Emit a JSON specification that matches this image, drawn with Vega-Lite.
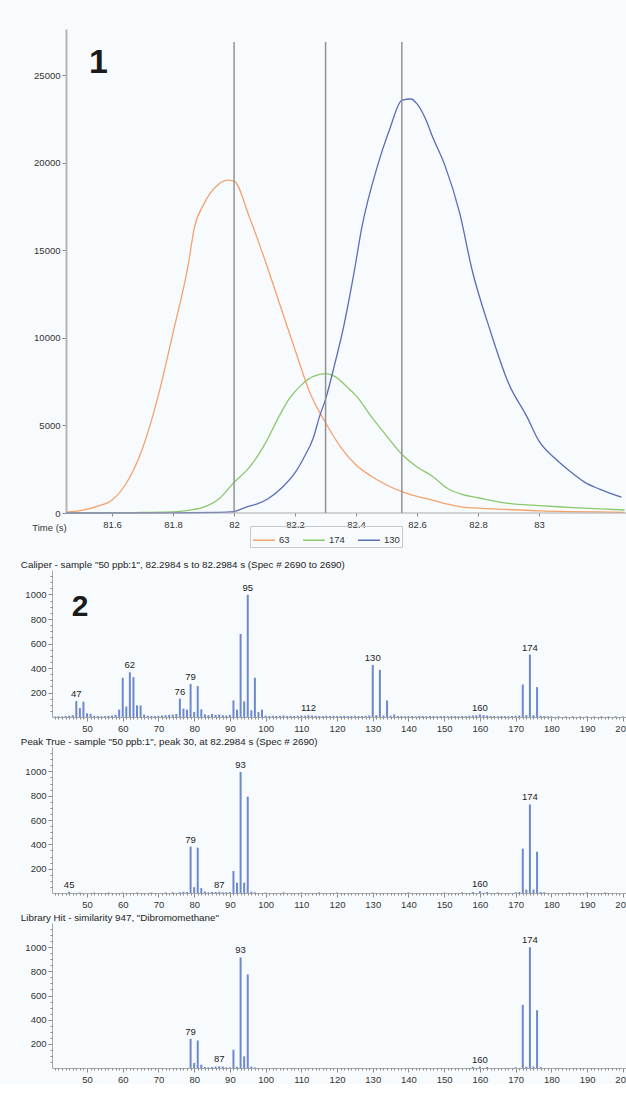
{
  "$schema": "https://vega.github.io/schema/vega-lite/v6.json",
  "background": "#f8fbfd",
  "padding": {"left": 20, "top": 29, "right": 0, "bottom": 0},
  "spacing": 4,
  "config": {
    "font": "Liberation Sans",
    "view": {"stroke": null},
    "axis": {"labelFont": "Liberation Sans", "labelFontSize": 9.5, "labelColor": "#333", "domainColor": "#a8a8a8", "tickColor": "#888", "grid": false, "titleFont": "Liberation Sans", "titleFontSize": 9.5, "titleFontWeight": "normal", "titleColor": "#333"},
    "title": {"font": "Liberation Sans", "fontSize": 9.8, "fontWeight": "normal", "color": "#222", "anchor": "start"},
    "legend": {"labelFont": "Liberation Sans", "labelFontSize": 9.5, "labelColor": "#333"}
  },
  "datasets": {
    "chrom": [
      {"s":"63","t":81.45,"v":50},{"s":"63","t":81.5,"v":150},{"s":"63","t":81.55,"v":380},{"s":"63","t":81.6,"v":742},{"s":"63","t":81.65,"v":1800},{"s":"63","t":81.7,"v":3700},{"s":"63","t":81.75,"v":6600},{"s":"63","t":81.8,"v":10300},{"s":"63","t":81.85,"v":14200},{"s":"63","t":81.87,"v":16300},{"s":"63","t":81.9,"v":17600},{"s":"63","t":81.95,"v":18780},{"s":"63","t":81.98,"v":19000},{"s":"63","t":82.0,"v":18950},{"s":"63","t":82.05,"v":16900},{"s":"63","t":82.1,"v":14500},{"s":"63","t":82.15,"v":11900},{"s":"63","t":82.2,"v":9300},{"s":"63","t":82.25,"v":6800},{"s":"63","t":82.3,"v":5150},{"s":"63","t":82.35,"v":3750},{"s":"63","t":82.4,"v":2740},{"s":"63","t":82.45,"v":2100},{"s":"63","t":82.5,"v":1600},{"s":"63","t":82.55,"v":1220},{"s":"63","t":82.6,"v":950},{"s":"63","t":82.65,"v":740},{"s":"63","t":82.7,"v":500},{"s":"63","t":82.75,"v":340},{"s":"63","t":82.8,"v":280},{"s":"63","t":82.9,"v":200},{"s":"63","t":83.0,"v":120},{"s":"63","t":83.1,"v":80},{"s":"63","t":83.2,"v":60},{"s":"63","t":83.28,"v":40},
      {"s":"174","t":81.45,"v":0},{"s":"174","t":81.6,"v":10},{"s":"174","t":81.7,"v":30},{"s":"174","t":81.8,"v":60},{"s":"174","t":81.85,"v":150},{"s":"174","t":81.9,"v":330},{"s":"174","t":81.95,"v":800},{"s":"174","t":82.0,"v":1750},{"s":"174","t":82.05,"v":2600},{"s":"174","t":82.1,"v":3900},{"s":"174","t":82.15,"v":5600},{"s":"174","t":82.18,"v":6500},{"s":"174","t":82.22,"v":7300},{"s":"174","t":82.26,"v":7800},{"s":"174","t":82.3,"v":7950},{"s":"174","t":82.33,"v":7800},{"s":"174","t":82.37,"v":7200},{"s":"174","t":82.4,"v":6700},{"s":"174","t":82.45,"v":5500},{"s":"174","t":82.5,"v":4400},{"s":"174","t":82.55,"v":3350},{"s":"174","t":82.6,"v":2630},{"s":"174","t":82.65,"v":2100},{"s":"174","t":82.7,"v":1400},{"s":"174","t":82.75,"v":1050},{"s":"174","t":82.8,"v":870},{"s":"174","t":82.9,"v":550},{"s":"174","t":83.0,"v":420},{"s":"174","t":83.1,"v":320},{"s":"174","t":83.2,"v":230},{"s":"174","t":83.28,"v":170},
      {"s":"130","t":81.45,"v":0},{"s":"130","t":81.8,"v":10},{"s":"130","t":81.95,"v":30},{"s":"130","t":82.0,"v":80},{"s":"130","t":82.04,"v":340},{"s":"130","t":82.08,"v":550},{"s":"130","t":82.11,"v":800},{"s":"130","t":82.16,"v":1500},{"s":"130","t":82.2,"v":2300},{"s":"130","t":82.23,"v":3200},{"s":"130","t":82.26,"v":4300},{"s":"130","t":82.28,"v":5500},{"s":"130","t":82.3,"v":6500},{"s":"130","t":82.33,"v":8500},{"s":"130","t":82.36,"v":10700},{"s":"130","t":82.39,"v":13400},{"s":"130","t":82.42,"v":16400},{"s":"130","t":82.47,"v":19800},{"s":"130","t":82.51,"v":21900},{"s":"130","t":82.55,"v":23550},{"s":"130","t":82.58,"v":23630},{"s":"130","t":82.6,"v":23350},{"s":"130","t":82.63,"v":22400},{"s":"130","t":82.65,"v":21500},{"s":"130","t":82.69,"v":19900},{"s":"130","t":82.74,"v":17100},{"s":"130","t":82.78,"v":13900},{"s":"130","t":82.84,"v":10400},{"s":"130","t":82.9,"v":7400},{"s":"130","t":82.96,"v":5500},{"s":"130","t":83.0,"v":4100},{"s":"130","t":83.05,"v":3150},{"s":"130","t":83.1,"v":2400},{"s":"130","t":83.15,"v":1750},{"s":"130","t":83.2,"v":1350},{"s":"130","t":83.27,"v":900}
    ],
    "markers": [{"t":82.0},{"t":82.3},{"t":82.55}],
    "caliper": [
      {"m":41,"i":4},{"m":42,"i":6},{"m":43,"i":5},{"m":44,"i":8},{"m":45,"i":10},{"m":46,"i":15},{"m":47,"i":130,"p":1},{"m":48,"i":73},{"m":49,"i":125},{"m":50,"i":30},{"m":51,"i":25},{"m":52,"i":10},{"m":53,"i":8},{"m":54,"i":6},{"m":55,"i":8},{"m":56,"i":10},{"m":57,"i":12},{"m":58,"i":18},{"m":59,"i":60},{"m":60,"i":320},{"m":61,"i":85},{"m":62,"i":365,"p":1},{"m":63,"i":325},{"m":64,"i":95},{"m":65,"i":95},{"m":66,"i":20},{"m":67,"i":10},{"m":68,"i":8},{"m":69,"i":8},{"m":70,"i":10},{"m":71,"i":12},{"m":72,"i":15},{"m":73,"i":18},{"m":74,"i":20},{"m":75,"i":25},{"m":76,"i":150,"p":1},{"m":77,"i":68},{"m":78,"i":60},{"m":79,"i":270,"p":1},{"m":80,"i":40},{"m":81,"i":252},{"m":82,"i":62},{"m":83,"i":22},{"m":84,"i":15},{"m":85,"i":25},{"m":86,"i":18},{"m":87,"i":20},{"m":88,"i":15},{"m":89,"i":12},{"m":90,"i":18},{"m":91,"i":135},{"m":92,"i":60},{"m":93,"i":678},{"m":94,"i":127},{"m":95,"i":997,"p":1},{"m":96,"i":54},{"m":97,"i":320},{"m":98,"i":40},{"m":99,"i":60},{"m":100,"i":12},{"m":101,"i":8},{"m":102,"i":10},{"m":103,"i":8},{"m":104,"i":10},{"m":105,"i":12},{"m":106,"i":8},{"m":107,"i":10},{"m":108,"i":8},{"m":109,"i":10},{"m":110,"i":12},{"m":111,"i":10},{"m":112,"i":15,"p":1},{"m":113,"i":12},{"m":114,"i":10},{"m":115,"i":8},{"m":116,"i":8},{"m":117,"i":10},{"m":118,"i":8},{"m":119,"i":10},{"m":120,"i":8},{"m":121,"i":8},{"m":122,"i":10},{"m":123,"i":8},{"m":124,"i":8},{"m":125,"i":10},{"m":126,"i":8},{"m":127,"i":8},{"m":128,"i":10},{"m":129,"i":12},{"m":130,"i":425,"p":1},{"m":131,"i":15},{"m":132,"i":385},{"m":133,"i":12},{"m":134,"i":135},{"m":135,"i":10},{"m":136,"i":20},{"m":137,"i":8},{"m":138,"i":8},{"m":139,"i":6},{"m":140,"i":8},{"m":141,"i":8},{"m":142,"i":6},{"m":143,"i":8},{"m":144,"i":8},{"m":145,"i":6},{"m":146,"i":8},{"m":147,"i":8},{"m":148,"i":6},{"m":149,"i":8},{"m":150,"i":8},{"m":151,"i":6},{"m":152,"i":8},{"m":153,"i":8},{"m":154,"i":6},{"m":155,"i":8},{"m":156,"i":8},{"m":157,"i":10},{"m":158,"i":12},{"m":159,"i":14},{"m":160,"i":20,"p":1},{"m":161,"i":15},{"m":162,"i":12},{"m":163,"i":8},{"m":164,"i":8},{"m":165,"i":6},{"m":166,"i":8},{"m":167,"i":8},{"m":168,"i":6},{"m":169,"i":8},{"m":170,"i":10},{"m":171,"i":12},{"m":172,"i":265},{"m":173,"i":15},{"m":174,"i":510,"p":1},{"m":175,"i":15},{"m":176,"i":244},{"m":177,"i":10},{"m":178,"i":8},{"m":179,"i":6},{"m":180,"i":6},{"m":182,"i":6},{"m":184,"i":5},{"m":186,"i":6},{"m":188,"i":5},{"m":190,"i":6},{"m":192,"i":5},{"m":194,"i":6},{"m":196,"i":5},{"m":198,"i":6},{"m":200,"i":5}
    ],
    "peaktrue": [
      {"m":45,"i":10,"p":1},{"m":48,"i":4},{"m":52,"i":4},{"m":56,"i":4},{"m":60,"i":4},{"m":64,"i":4},{"m":68,"i":4},{"m":72,"i":5},{"m":74,"i":6},{"m":76,"i":6},{"m":77,"i":10},{"m":78,"i":8},{"m":79,"i":381,"p":1},{"m":80,"i":48},{"m":81,"i":373},{"m":82,"i":40},{"m":83,"i":12},{"m":84,"i":6},{"m":85,"i":8},{"m":86,"i":8},{"m":87,"i":10,"p":1},{"m":88,"i":6},{"m":89,"i":6},{"m":90,"i":8},{"m":91,"i":181},{"m":92,"i":85},{"m":93,"i":995,"p":1},{"m":94,"i":85},{"m":95,"i":792},{"m":96,"i":10},{"m":97,"i":6},{"m":100,"i":4},{"m":105,"i":5},{"m":110,"i":4},{"m":115,"i":5},{"m":120,"i":4},{"m":130,"i":4},{"m":140,"i":5},{"m":150,"i":4},{"m":155,"i":5},{"m":158,"i":8},{"m":160,"i":15,"p":1},{"m":162,"i":8},{"m":165,"i":5},{"m":170,"i":6},{"m":171,"i":8},{"m":172,"i":365},{"m":173,"i":27},{"m":174,"i":728,"p":1},{"m":175,"i":27},{"m":176,"i":339},{"m":177,"i":8},{"m":178,"i":6},{"m":185,"i":4},{"m":190,"i":5},{"m":195,"i":4}
    ],
    "library": [
      {"m":79,"i":242,"p":1},{"m":80,"i":41},{"m":81,"i":228},{"m":82,"i":27},{"m":83,"i":8},{"m":84,"i":5},{"m":85,"i":8},{"m":86,"i":12},{"m":87,"i":14,"p":1},{"m":88,"i":12},{"m":89,"i":6},{"m":90,"i":5},{"m":91,"i":151},{"m":92,"i":10},{"m":93,"i":915,"p":1},{"m":94,"i":96},{"m":95,"i":775},{"m":96,"i":12},{"m":97,"i":5},{"m":158,"i":8},{"m":160,"i":12,"p":1},{"m":162,"i":8},{"m":170,"i":6},{"m":172,"i":522},{"m":173,"i":10},{"m":174,"i":1000,"p":1},{"m":175,"i":12},{"m":176,"i":478},{"m":177,"i":8}
    ]
  },
  "vconcat": [
    {
      "width": 574,
      "height": 484,
      "layer": [
        {
          "data": {"name": "chrom"},
          "mark": {"type": "line", "strokeWidth": 1.3, "interpolate": "monotone"},
          "encoding": {
            "x": {"field": "t", "type": "quantitative", "scale": {"domain": [81.403, 83.285], "nice": false, "zero": false},
                  "axis": {"values": [81.6, 81.8, 82, 82.2, 82.4, 82.6, 82.8, 83], "format": ".1~f", "domain": false, "tickSize": 3, "labelPadding": 3,
                           "title": "Time (s)", "titleX": -3, "titleY": 14, "titleAlign": "center", "titleBaseline": "middle", "titleAnchor": "start"}},
            "y": {"field": "v", "type": "quantitative", "scale": {"domain": [0, 27626], "nice": false},
                  "axis": {"values": [0, 5000, 10000, 15000, 20000, 25000], "format": "d", "offset": -14, "title": null, "domainColor": "#b5b5b5", "domainWidth": 2, "tickSize": 4, "labelPadding": 2}},
            "color": {"field": "s", "type": "nominal", "scale": {"domain": ["63", "174", "130"], "range": ["#f4a26c", "#8cc86a", "#5a6db7"]},
                      "legend": {"orient": "none", "legendX": 198, "legendY": 497, "direction": "horizontal", "title": null, "symbolType": "stroke", "symbolSize": 480, "symbolStrokeWidth": 1.5, "strokeColor": "#c8c8c8", "padding": 2, "columnPadding": 10, "labelOffset": 3}}
          }
        },
        {
          "data": {"name": "markers"},
          "mark": {"type": "rule", "color": "#929292", "strokeWidth": 1.5},
          "encoding": {"x": {"field": "t", "type": "quantitative"}, "y": {"datum": 0}, "y2": {"datum": 26880}}
        },
        {
          "data": {"values": [{"lo": 81.449, "hi": 83.285}]},
          "mark": {"type": "rule", "color": "#a8a8a8", "strokeWidth": 1},
          "encoding": {"x": {"field": "lo", "type": "quantitative"}, "x2": {"field": "hi"}, "y": {"datum": 0}}
        },
        {
          "data": {"values": [{"n": "1"}]},
          "mark": {"type": "text", "fontSize": 34, "fontWeight": "bold", "font": "Liberation Sans", "color": "#1a1a1a", "baseline": "middle", "align": "center"},
          "encoding": {"x": {"datum": 81.555}, "y": {"datum": 25700}, "text": {"field": "n"}}
        }
      ]
    },
    {
      "width": 574,
      "height": 147,
      "title": {"text": ["", "Caliper - sample \"50 ppb:1\",  82.2984 s to 82.2984 s (Spec # 2690 to 2690)"], "lineHeight": 24, "offset": 0, "dx": -4},
      "resolve": {"axis": {"x": "independent", "y": "independent"}},
      "layer": [
        {
          "data": {"name": "caliper"},
          "mark": {"type": "rule", "color": "#6d88cf", "strokeWidth": 2},
          "encoding": {
            "x": {"field": "m", "type": "quantitative", "scale": {"domain": [40.2, 200.9], "nice": false, "zero": false},
                  "axis": {"values": [50,60,70,80,90,100,110,120,130,140,150,160,170,180,190,200], "labelFlush": false, "labelPadding": 2, "tickSize": 4, "title": null, "orient": "bottom"}},
            "y": {"field": "i", "type": "quantitative", "scale": {"domain": [0, 1200], "nice": false},
                  "axis": {"values": [200,400,600,800,1000], "format": "d", "tickSize": 4, "title": null, "orient": "left"}},
            "y2": {"datum": 0}
          }
        },
        {
          "data": {"name": "caliper"},
          "transform": [{"filter": "datum.p === 1"}],
          "mark": {"type": "text", "fontSize": 9.5, "color": "#222", "baseline": "bottom", "dy": -2},
          "encoding": {
            "x": {"field": "m", "type": "quantitative", "axis": {"values": [41,42,43,44,45,46,47,48,49,51,52,53,54,55,56,57,58,59,61,62,63,64,65,66,67,68,69,71,72,73,74,75,76,77,78,79,81,82,83,84,85,86,87,88,89,91,92,93,94,95,96,97,98,99,101,102,103,104,105,106,107,108,109,111,112,113,114,115,116,117,118,119,121,122,123,124,125,126,127,128,129,131,132,133,134,135,136,137,138,139,141,142,143,144,145,146,147,148,149,151,152,153,154,155,156,157,158,159,161,162,163,164,165,166,167,168,169,171,172,173,174,175,176,177,178,179,181,182,183,184,185,186,187,188,189,191,192,193,194,195,196,197,198,199], "labels": false, "domain": false, "tickSize": 2, "title": null, "orient": "bottom"}},
            "y": {"field": "i", "type": "quantitative", "axis": {"values": [50,100,150,250,300,350,450,500,550,650,700,750,850,900,950,1050,1100,1150], "labels": false, "domain": false, "tickSize": 2, "title": null, "orient": "left"}},
            "text": {"field": "m"}
          }
        },
        {
          "data": {"values": [{"n": "2"}]},
          "mark": {"type": "text", "fontSize": 30, "fontWeight": "bold", "font": "Liberation Sans", "color": "#1a1a1a", "baseline": "middle", "align": "center"},
          "encoding": {"x": {"datum": 48.04, "axis": null}, "y": {"datum": 898, "axis": null}, "text": {"field": "n"}}
        }
      ]
    },
    {
      "width": 574,
      "height": 146,
      "title": {"text": "Peak True - sample \"50 ppb:1\", peak 30, at 82.2984 s (Spec # 2690)", "offset": 0, "dx": -4},
      "data": {"name": "peaktrue"},
      "resolve": {"axis": {"x": "independent", "y": "independent"}},
      "layer": [
        {
          "mark": {"type": "rule", "color": "#6d88cf", "strokeWidth": 2},
          "encoding": {
            "x": {"field": "m", "type": "quantitative", "scale": {"domain": [40.2, 200.9], "nice": false, "zero": false},
                  "axis": {"values": [50,60,70,80,90,100,110,120,130,140,150,160,170,180,190,200], "labelFlush": false, "labelPadding": 2, "tickSize": 4, "title": null, "orient": "bottom"}},
            "y": {"field": "i", "type": "quantitative", "scale": {"domain": [0, 1200], "nice": false},
                  "axis": {"values": [200,400,600,800,1000], "format": "d", "tickSize": 4, "title": null, "orient": "left"}},
            "y2": {"datum": 0}
          }
        },
        {
          "transform": [{"filter": "datum.p === 1"}],
          "mark": {"type": "text", "fontSize": 9.5, "color": "#222", "baseline": "bottom", "dy": -2},
          "encoding": {
            "x": {"field": "m", "type": "quantitative", "axis": {"values": [41,42,43,44,45,46,47,48,49,51,52,53,54,55,56,57,58,59,61,62,63,64,65,66,67,68,69,71,72,73,74,75,76,77,78,79,81,82,83,84,85,86,87,88,89,91,92,93,94,95,96,97,98,99,101,102,103,104,105,106,107,108,109,111,112,113,114,115,116,117,118,119,121,122,123,124,125,126,127,128,129,131,132,133,134,135,136,137,138,139,141,142,143,144,145,146,147,148,149,151,152,153,154,155,156,157,158,159,161,162,163,164,165,166,167,168,169,171,172,173,174,175,176,177,178,179,181,182,183,184,185,186,187,188,189,191,192,193,194,195,196,197,198,199], "labels": false, "domain": false, "tickSize": 2, "title": null, "orient": "bottom"}},
            "y": {"field": "i", "type": "quantitative", "axis": {"values": [50,100,150,250,300,350,450,500,550,650,700,750,850,900,950,1050,1100,1150], "labels": false, "domain": false, "tickSize": 2, "title": null, "orient": "left"}},
            "text": {"field": "m"}
          }
        }
      ]
    },
    {
      "width": 574,
      "height": 145,
      "title": {"text": "Library Hit - similarity 947, \"Dibromomethane\"", "offset": 0, "dx": -4},
      "data": {"name": "library"},
      "resolve": {"axis": {"x": "independent", "y": "independent"}},
      "layer": [
        {
          "mark": {"type": "rule", "color": "#6d88cf", "strokeWidth": 2},
          "encoding": {
            "x": {"field": "m", "type": "quantitative", "scale": {"domain": [40.2, 200.9], "nice": false, "zero": false},
                  "axis": {"values": [50,60,70,80,90,100,110,120,130,140,150,160,170,180,190,200], "labelFlush": false, "labelPadding": 2, "tickSize": 4, "title": null, "orient": "bottom"}},
            "y": {"field": "i", "type": "quantitative", "scale": {"domain": [0, 1200], "nice": false},
                  "axis": {"values": [200,400,600,800,1000], "format": "d", "tickSize": 4, "title": null, "orient": "left"}},
            "y2": {"datum": 0}
          }
        },
        {
          "transform": [{"filter": "datum.p === 1"}],
          "mark": {"type": "text", "fontSize": 9.5, "color": "#222", "baseline": "bottom", "dy": -2},
          "encoding": {
            "x": {"field": "m", "type": "quantitative", "axis": {"values": [41,42,43,44,45,46,47,48,49,51,52,53,54,55,56,57,58,59,61,62,63,64,65,66,67,68,69,71,72,73,74,75,76,77,78,79,81,82,83,84,85,86,87,88,89,91,92,93,94,95,96,97,98,99,101,102,103,104,105,106,107,108,109,111,112,113,114,115,116,117,118,119,121,122,123,124,125,126,127,128,129,131,132,133,134,135,136,137,138,139,141,142,143,144,145,146,147,148,149,151,152,153,154,155,156,157,158,159,161,162,163,164,165,166,167,168,169,171,172,173,174,175,176,177,178,179,181,182,183,184,185,186,187,188,189,191,192,193,194,195,196,197,198,199], "labels": false, "domain": false, "tickSize": 2, "title": null, "orient": "bottom"}},
            "y": {"field": "i", "type": "quantitative", "axis": {"values": [50,100,150,250,300,350,450,500,550,650,700,750,850,900,950,1050,1100,1150], "labels": false, "domain": false, "tickSize": 2, "title": null, "orient": "left"}},
            "text": {"field": "m"}
          }
        }
      ]
    }
  ]
}
